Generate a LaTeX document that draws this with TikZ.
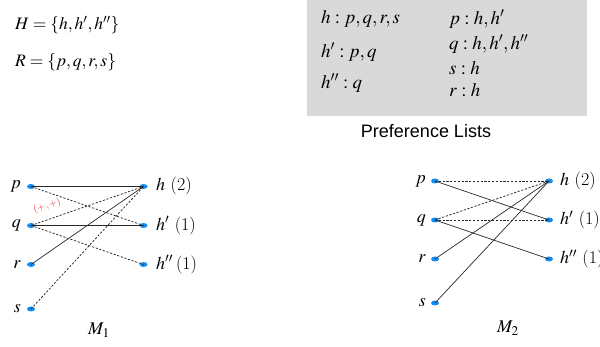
\documentclass[tikz,border=0pt]{standalone}
\usepackage{mathptmx}
\usepackage{fontspec}
\setsansfont{Liberation Sans}
\usetikzlibrary{shapes.geometric}
\definecolor{dotblue}{RGB}{20,140,240}
\definecolor{boxgray}{RGB}{217,217,217}
\definecolor{edgegray}{RGB}{40,40,40}
\definecolor{labred}{RGB}{235,50,50}
\tikzset{
  dot/.style={ellipse,fill=dotblue,inner sep=0pt,minimum width=8pt,minimum height=5pt},
  lab/.style={inner sep=0pt,font=\fontsize{18}{20}\selectfont},
  solidedge/.style={draw=edgegray,line width=0.7pt},
  dashededge/.style={draw=edgegray,line width=0.75pt,dash pattern=on 2.2pt off 1.6pt},
  big/.style={inner sep=0pt,font=\fontsize{17.5}{20}\selectfont,anchor=west},
  box/.style={inner sep=0pt,font=\fontsize{19}{22}\selectfont,anchor=west},
}
\begin{document}
\begin{tikzpicture}[x=1pt,y=-1pt]
\useasboundingbox (0,0) rectangle (600,347);
% top-left sets
\node[big] (Hset) at (15,25) {$H=\{h,h',h''\}$};
\node[big] (Rset) at (15,62) {$R=\{p,q,r,s\}$};
% preference box
\fill[boxgray] (307,0) rectangle (587,116);
\node[box] (l1) at (321,19) {$h:p,q,r,s$};
\node[box] (l2) at (321,52) {$h':p,q$};
\node[box] (l3) at (321,83) {$h'':q$};
\node[box] (l4) at (449,19) {$p:h,h'$};
\node[box] (l5) at (449,44) {$q:h,h',h''$};
\node[box] (l6) at (449,68) {$s:h$};
\node[box] (l7) at (449,90) {$r:h$};
\node[inner sep=0pt,font=\sffamily\fontsize{18}{21}\selectfont] (pl) at (426,131) {Preference Lists};
% M1
\node[dot] (p1) at (31,186.5) {};
\node[dot] (q1) at (31,225.5) {};
\node[dot] (r1) at (31,264.5) {};
\node[dot] (s1) at (31,309) {};
\node[dot] (h1) at (143.5,186.5) {};
\node[dot] (ha1) at (143.5,225.5) {};
\node[dot] (hb1) at (143.5,264.5) {};
\node[lab,anchor=east] (tp1) at (21,186.5) {$p$};
\node[lab,anchor=east] (tq1) at (21,225.5) {$q$};
\node[lab,anchor=east] (tr1) at (21,264.5) {$r$};
\node[lab,anchor=east] (ts1) at (21,309) {$s$};
\node[lab,anchor=west] (th1) at (156,186.5) {$h$ (2)};
\node[lab,anchor=west] (tha1) at (156,225.5) {$h'$ (1)};
\node[lab,anchor=west] (thb1) at (156,264.5) {$h''$\,(1)};
\node[lab] (m1) at (99,330) {$M_1$};
\draw[solidedge] (p1.center) -- (h1.center);
\draw[dashededge] (p1.center) -- (ha1.center);
\draw[dashededge] (q1.center) -- (h1.center);
\draw[solidedge] (q1.center) -- (ha1.center);
\draw[dashededge] (q1.center) -- (hb1.center);
\draw[solidedge] (r1.center) -- (h1.center);
\draw[dashededge] (s1.center) -- (h1.center);
\node[text=labred,inner sep=0pt,rotate=19,font=\fontsize{10}{11}\selectfont] (pp) at (47,206) {$(+\,,+)$};
% M2
\node[dot] (p2) at (435,181) {};
\node[dot] (q2) at (435,220) {};
\node[dot] (r2) at (435,259) {};
\node[dot] (s2) at (435,303) {};
\node[dot] (h2) at (549,181) {};
\node[dot] (ha2) at (549,220) {};
\node[dot] (hb2) at (549,259) {};
\node[lab,anchor=east] (tp2) at (426,181) {$p$};
\node[lab,anchor=east] (tq2) at (426,220) {$q$};
\node[lab,anchor=east] (tr2) at (426,259) {$r$};
\node[lab,anchor=east] (ts2) at (426,303) {$s$};
\node[lab,anchor=west] (th2) at (560,181) {$h$ (2)};
\node[lab,anchor=west] (tha2) at (560,220) {$h'$ (1)};
\node[lab,anchor=west] (thb2) at (560,259) {$h''$ (1)};
\node[lab] (m2) at (508,328) {$M_2$};
\draw[dashededge] (p2.center) -- (h2.center);
\draw[solidedge] (p2.center) -- (ha2.center);
\draw[dashededge] (q2.center) -- (h2.center);
\draw[dashededge] (q2.center) -- (ha2.center);
\draw[solidedge] (q2.center) -- (hb2.center);
\draw[solidedge] (r2.center) -- (h2.center);
\draw[solidedge] (s2.center) -- (h2.center);
\end{tikzpicture}
\end{document}
